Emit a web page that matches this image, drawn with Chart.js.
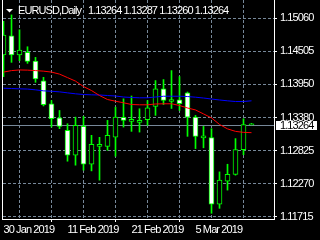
<!DOCTYPE html>
<html><head><meta charset="utf-8">
<style>html,body{margin:0;padding:0;background:#000;overflow:hidden}#c{display:block}</style>
<script src="https://cdn.jsdelivr.net/npm/chart.js@4/dist/chart.umd.min.js"></script>
</head><body>
<canvas id="c" width="320" height="240"></canvas>
<script>
const symbolText = 'EURUSD,Daily';
const opens  = [1.14440,1.14764,1.14440,1.14484,1.14339,1.14004,1.13618,1.13383,1.13170,1.12750,1.13237,1.12599,1.12901,1.12901,1.13057,1.13388,1.13321,1.13304,1.13349,1.13573,1.13870,1.13656,1.13685,1.13802,1.13393,1.13044,1.13047,1.11928,1.12314,1.12427,1.12846,1.13264];
const highs  = [1.15007,1.15116,1.14865,1.14579,1.14400,1.14064,1.13673,1.13505,1.13282,1.13393,1.13405,1.13086,1.13052,1.13338,1.13561,1.13702,1.13749,1.13534,1.13673,1.14009,1.14026,1.14177,1.14076,1.13816,1.13422,1.13237,1.13198,1.12470,1.12599,1.13031,1.13366,1.13287];
const lows   = [1.14076,1.14316,1.14344,1.14299,1.13980,1.13581,1.13225,1.13198,1.12650,1.12583,1.12499,1.12487,1.12331,1.12834,1.12734,1.13225,1.13153,1.13141,1.13254,1.13422,1.13606,1.13539,1.13505,1.13069,1.12863,1.12876,1.11772,1.11856,1.12163,1.12415,1.12759,1.13260];
const closes = [1.14776,1.14440,1.14524,1.14333,1.14037,1.13601,1.13366,1.13237,1.12750,1.13254,1.12599,1.12935,1.12935,1.13086,1.13393,1.13338,1.13354,1.13338,1.13551,1.13870,1.13673,1.13690,1.13618,1.13393,1.13069,1.13078,1.11928,1.12331,1.12427,1.12846,1.13266,1.13264];
const maRed  = [1.14152,1.14177,1.14188,1.14185,1.14177,1.14168,1.14152,1.14118,1.14059,1.14000,1.13908,1.13841,1.13757,1.13690,1.13661,1.13635,1.13606,1.13601,1.13601,1.13614,1.13618,1.13618,1.13589,1.13547,1.13514,1.13447,1.13380,1.13270,1.13195,1.13153,1.13136,1.13131];
const maBlue = [1.13880,1.13875,1.13870,1.13866,1.13853,1.13836,1.13829,1.13819,1.13802,1.13786,1.13774,1.13769,1.13766,1.13757,1.13749,1.13732,1.13724,1.13719,1.13719,1.13732,1.13745,1.13745,1.13745,1.13740,1.13729,1.13715,1.13698,1.13682,1.13668,1.13656,1.13656,1.13668];
const yTicks = [1.11715,1.12270,1.12825,1.13380,1.13950,1.14505,1.15060];
const xGridIndex = [0,4,8,12,16,20,24,28,32];
const xTickIndex = [0,8,16,24];
const xTickLabels = ['30 Jan 2019','11 Feb 2019','21 Feb 2019','5 Mar 2019'];

const FONT = "'Liberation Sans',Arial,sans-serif";
const SPACING = '-0.9px';
const GRID = '#778899';
const idx = opens.map((_, i) => i);
const last = opens.length - 1;

const overlay = {
  id: 'overlay',
  beforeDraw(chart) {
    chart.ctx.letterSpacing = SPACING;
  },
  beforeDatasetsDraw(chart) {
    const {ctx, chartArea: a, scales: {y}} = chart;
    const by = Math.round(y.getPixelForValue(closes[last])) + 0.5;
    ctx.save();
    ctx.strokeStyle = GRID; ctx.lineWidth = 1;
    ctx.beginPath(); ctx.moveTo(a.left, by); ctx.lineTo(a.right + 1, by); ctx.stroke();
    ctx.restore();
  },
  afterDraw(chart) {
    const {ctx, chartArea: a, scales: {y}} = chart;
    ctx.save();
    ctx.letterSpacing = SPACING;
    // frame
    ctx.strokeStyle = '#ffffff'; ctx.lineWidth = 1;
    ctx.beginPath();
    ctx.moveTo(a.left - 0.5, 0); ctx.lineTo(a.left - 0.5, a.bottom + 1);
    ctx.moveTo(a.left - 1, a.bottom + 0.5); ctx.lineTo(a.right + 1, a.bottom + 0.5);
    ctx.moveTo(a.right + 0.5, 0); ctx.lineTo(a.right + 0.5, a.bottom + 1);
    ctx.stroke();
    // price label
    const by = Math.round(y.getPixelForValue(closes[last]));
    ctx.fillStyle = '#ffffff';
    ctx.fillRect(a.right + 2, by - 4, 41, 9);
    ctx.fillStyle = '#000000';
    ctx.font = '11px ' + FONT;
    ctx.textBaseline = 'middle'; ctx.textAlign = 'left';
    ctx.fillText(closes[last].toFixed(5), a.right + 6, by + 0.5);
    // title
    ctx.fillStyle = '#ffffff';
    ctx.beginPath(); ctx.moveTo(6, 9); ctx.lineTo(13, 9); ctx.lineTo(9.5, 12.5); ctx.closePath(); ctx.fill();
    ctx.textBaseline = 'alphabetic';
    ctx.fillText(symbolText, 18, 14);
    const q = [opens[last], highs[last], lows[last], closes[last]].map(v => v.toFixed(5)).join(' ');
    ctx.fillText(q, 88, 14);
    ctx.restore();
  }
};

new Chart(document.getElementById('c'), {
  type: 'bar',
  data: {
    datasets: [
      {type: 'line', data: idx.map(i => ({x: i, y: maRed[i]})), borderColor: '#ff0000', borderWidth: 1, pointRadius: 0, tension: 0, order: 0},
      {type: 'line', data: idx.map(i => ({x: i, y: maBlue[i]})), borderColor: '#0000ff', borderWidth: 1, pointRadius: 0, tension: 0, order: 0},
      {type: 'bar', data: idx.map(i => ({x: i, y: [opens[i], closes[i]]})),
        backgroundColor: idx.map(i => closes[i] < opens[i] ? '#ffffff' : '#000000'),
        borderColor: '#00ff00', borderWidth: 1, borderSkipped: false, barThickness: 5, minBarLength: 1, grouped: false, order: 1},
      {type: 'bar', data: idx.map(i => ({x: i, y: [lows[i], highs[i]]})),
        backgroundColor: '#00ff00', borderWidth: 0, barThickness: 1, grouped: false, order: 2}
    ]
  },
  options: {
    responsive: false, animation: false, events: [],
    layout: {padding: {left: 3, top: 0, right: 0, bottom: 0}},
    plugins: {legend: {display: false}, tooltip: {enabled: false}},
    scales: {
      x: {
        type: 'linear', min: -0.0625, max: 33.8125, offset: false,
        afterBuildTicks: s => { s.ticks = xGridIndex.map(v => ({value: v})); },
        afterFit: s => { s.height = 21; s.paddingLeft = 0; s.paddingRight = 0; },
        grid: {
          color: c => (c.tick && c.tick.value === 0) ? 'rgba(0,0,0,0)' : GRID,
          tickColor: c => (c.tick && xTickIndex.includes(c.tick.value)) ? '#ffffff' : 'rgba(0,0,0,0)',
          tickLength: 3, tickBorderDash: []
        },
        border: {display: false, dash: [3, 2]},
        ticks: {
          color: '#ffffff', align: 'start', padding: 1, autoSkip: false, maxRotation: 0,
          font: {family: FONT, size: 11},
          callback: v => { const k = xTickIndex.indexOf(v); return k >= 0 ? xTickLabels[k] : ''; }
        }
      },
      y: {
        type: 'linear', position: 'right', min: 1.11676, max: 1.15367,
        afterBuildTicks: s => { s.ticks = yTicks.map(v => ({value: v})); },
        afterFit: s => { s.width = 46; s.paddingTop = 0; s.paddingBottom = 0; },
        grid: {color: GRID, tickColor: '#ffffff', tickLength: 3, tickBorderDash: []},
        border: {display: false, dash: [3, 2]},
        ticks: {color: '#ffffff', padding: 3, autoSkip: false, font: {family: FONT, size: 11}, callback: v => v.toFixed(5)}
      }
    }
  },
  plugins: [overlay]
});
</script>
</body></html>
